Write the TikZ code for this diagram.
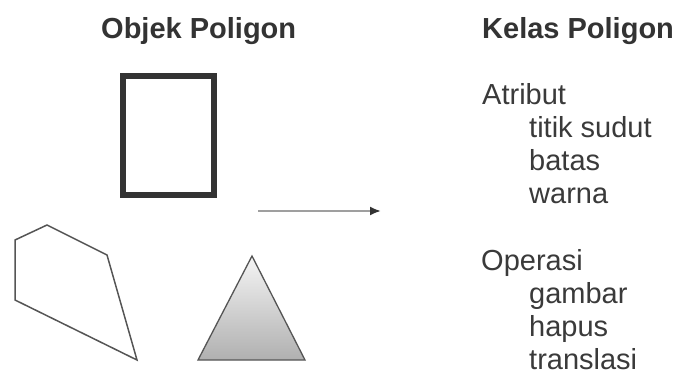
\documentclass[tikz,border=0pt]{standalone}
\usepackage{fontspec}
\setmainfont{Liberation Sans}
\usetikzlibrary{arrows.meta}
\definecolor{ink}{HTML}{333333}
\definecolor{bodyink}{HTML}{3A3A3A}
\definecolor{edge}{HTML}{555555}
\begin{document}
\begin{tikzpicture}[x=1pt,y=-1pt,
  title/.style={anchor=base west,inner sep=0pt,text=ink,font=\fontsize{29}{33}\selectfont\bfseries},
  body/.style={anchor=base west,inner sep=0pt,text=bodyink,font=\fontsize{29}{33}\selectfont},
  shapeline/.style={draw=edge,line width=1.5pt,line join=miter}]
\useasboundingbox[fill=white] (0,0) rectangle (677,374);
% titles
\node[title] (t1) at (101,39) {Objek Poligon};
\node[title] (t2) at (482,39) {Kelas Poligon};
% rectangle
\draw[draw=ink,line width=6pt] (123,76) rectangle (214,195);
% polygon
\draw[shapeline] (15,240) -- (47,225) -- (107,255) -- (137,360) -- (15,300) -- cycle;
% triangle
\shade[top color=gray!8,bottom color=gray!62] (252,256) -- (305,360) -- (198,360) -- cycle;
\draw[shapeline,line width=1.3pt] (252,256) -- (305,360) -- (198,360) -- cycle;
% arrow
\coordinate (a1) at (258,211);
\coordinate (a2) at (381,211);
\draw[draw=gray!75,line width=2pt,-{Latex[length=11pt,width=9pt,color=ink]}] (a1) -- (a2);
% class text
\node[body] (atr) at (482,105) {Atribut};
\node[body] (a1t) at (529,138) {titik sudut};
\node[body] (a2t) at (529,171) {batas};
\node[body] (a3t) at (529,204) {warna};
\node[body] (op) at (481,270) {Operasi};
\node[body] (o1) at (529,303) {gambar};
\node[body] (o2) at (529,336) {hapus};
\node[body] (o3) at (529,369) {translasi};
\end{tikzpicture}
\end{document}
